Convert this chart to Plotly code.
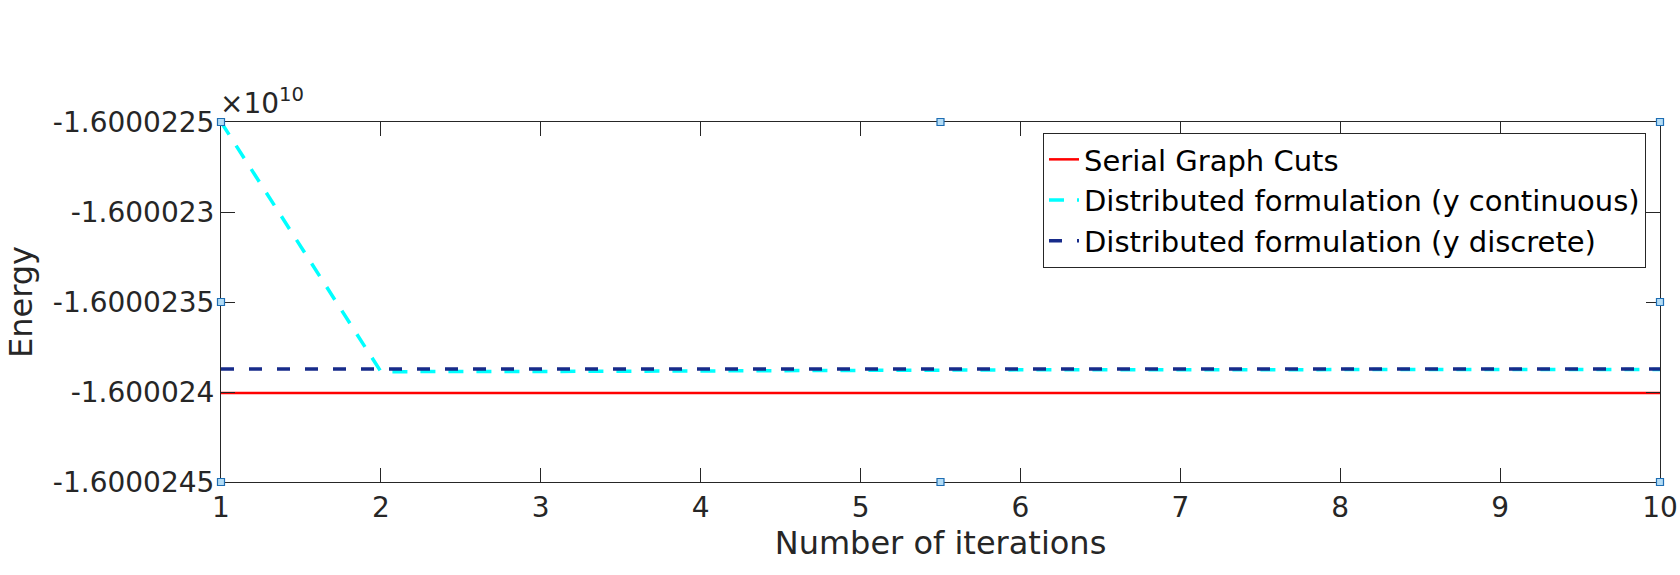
import plotly.graph_objects as go

iterations = [1, 2, 3, 4, 5, 6, 7, 8, 9, 10]
serial_graph_cuts = [-16000240050] * 10
distributed_continuous = [-16000225000, -16000238870, -16000238860, -16000238820, -16000238790,
                          -16000238770, -16000238760, -16000238760, -16000238750, -16000238750]
distributed_discrete = [-16000238720] * 10

y_tickvals = [-16000245000, -16000240000, -16000235000, -16000230000, -16000225000]
y_ticktext = ["-1.6000245", "-1.600024", "-1.6000235", "-1.600023", "-1.6000225"]
x_tickvals = [1, 2, 3, 4, 5, 6, 7, 8, 9, 10]

FONT = "DejaVu Sans"
AX = "#262626"

fig = go.Figure()
fig.add_trace(go.Scatter(x=iterations, y=serial_graph_cuts, mode="lines",
                         name="Serial Graph Cuts",
                         line=dict(color="#ff0000", width=2.5)))
fig.add_trace(go.Scatter(x=iterations, y=distributed_continuous, mode="lines",
                         name="Distributed formulation (y continuous)",
                         line=dict(color="#00ffff", width=3.5, dash="15px,13px")))
fig.add_trace(go.Scatter(x=iterations, y=distributed_discrete, mode="lines",
                         name="Distributed formulation (y discrete)",
                         line=dict(color="#172b8a", width=3.5, dash="13px,15px")))

axis_common = dict(showline=True, linecolor=AX, linewidth=1, mirror="ticks",
                   ticks="inside", ticklen=14, tickcolor=AX, tickwidth=1,
                   showgrid=False, zeroline=False, automargin=False,
                   tickfont=dict(family=FONT, size=28, color=AX))

fig.update_layout(
    width=1680, height=575,
    margin=dict(l=221, r=20, t=122, b=93),
    paper_bgcolor="white", plot_bgcolor="white",
    showlegend=True,
    legend=dict(x=(1646 - 221) / (1660 - 221), y=(482 - 133) / 360,
                xanchor="right", yanchor="top",
                bgcolor="white", bordercolor="#262626", borderwidth=1,
                font=dict(family=FONT, size=29, color="black"),
                tracegroupgap=0, itemwidth=30),
    xaxis=dict(range=[1, 10], tickvals=x_tickvals,
               title=dict(text="Number of iterations", standoff=5,
                          font=dict(family=FONT, size=32, color=AX)),
               **axis_common),
    yaxis=dict(range=[-16000245000, -16000225000], tickvals=y_tickvals, ticktext=y_ticktext,
               title=dict(text="Energy", standoff=10,
                          font=dict(family=FONT, size=32, color=AX)),
               **axis_common),
)

fig.add_annotation(xref="paper", yref="paper", x=0, y=1, xanchor="left", yanchor="bottom",
                   text="×10<sup>10</sup>", showarrow=False, xshift=-3,
                   font=dict(family=FONT, size=28, color=AX))

# selection handles
handles = [(0, 1), (0.5, 1), (1, 1), (0, 0.5), (1, 0.5), (0, 0), (0.5, 0), (1, 0)]
for hx, hy in handles:
    fig.add_shape(type="rect", xref="paper", yref="paper",
                  xsizemode="pixel", ysizemode="pixel", xanchor=hx, yanchor=hy,
                  x0=-3.5, x1=3.5, y0=-3.5, y1=3.5,
                  fillcolor="#b3dcf5", line=dict(color="#1f6eb4", width=1.2))

fig.write_html("out.html")
